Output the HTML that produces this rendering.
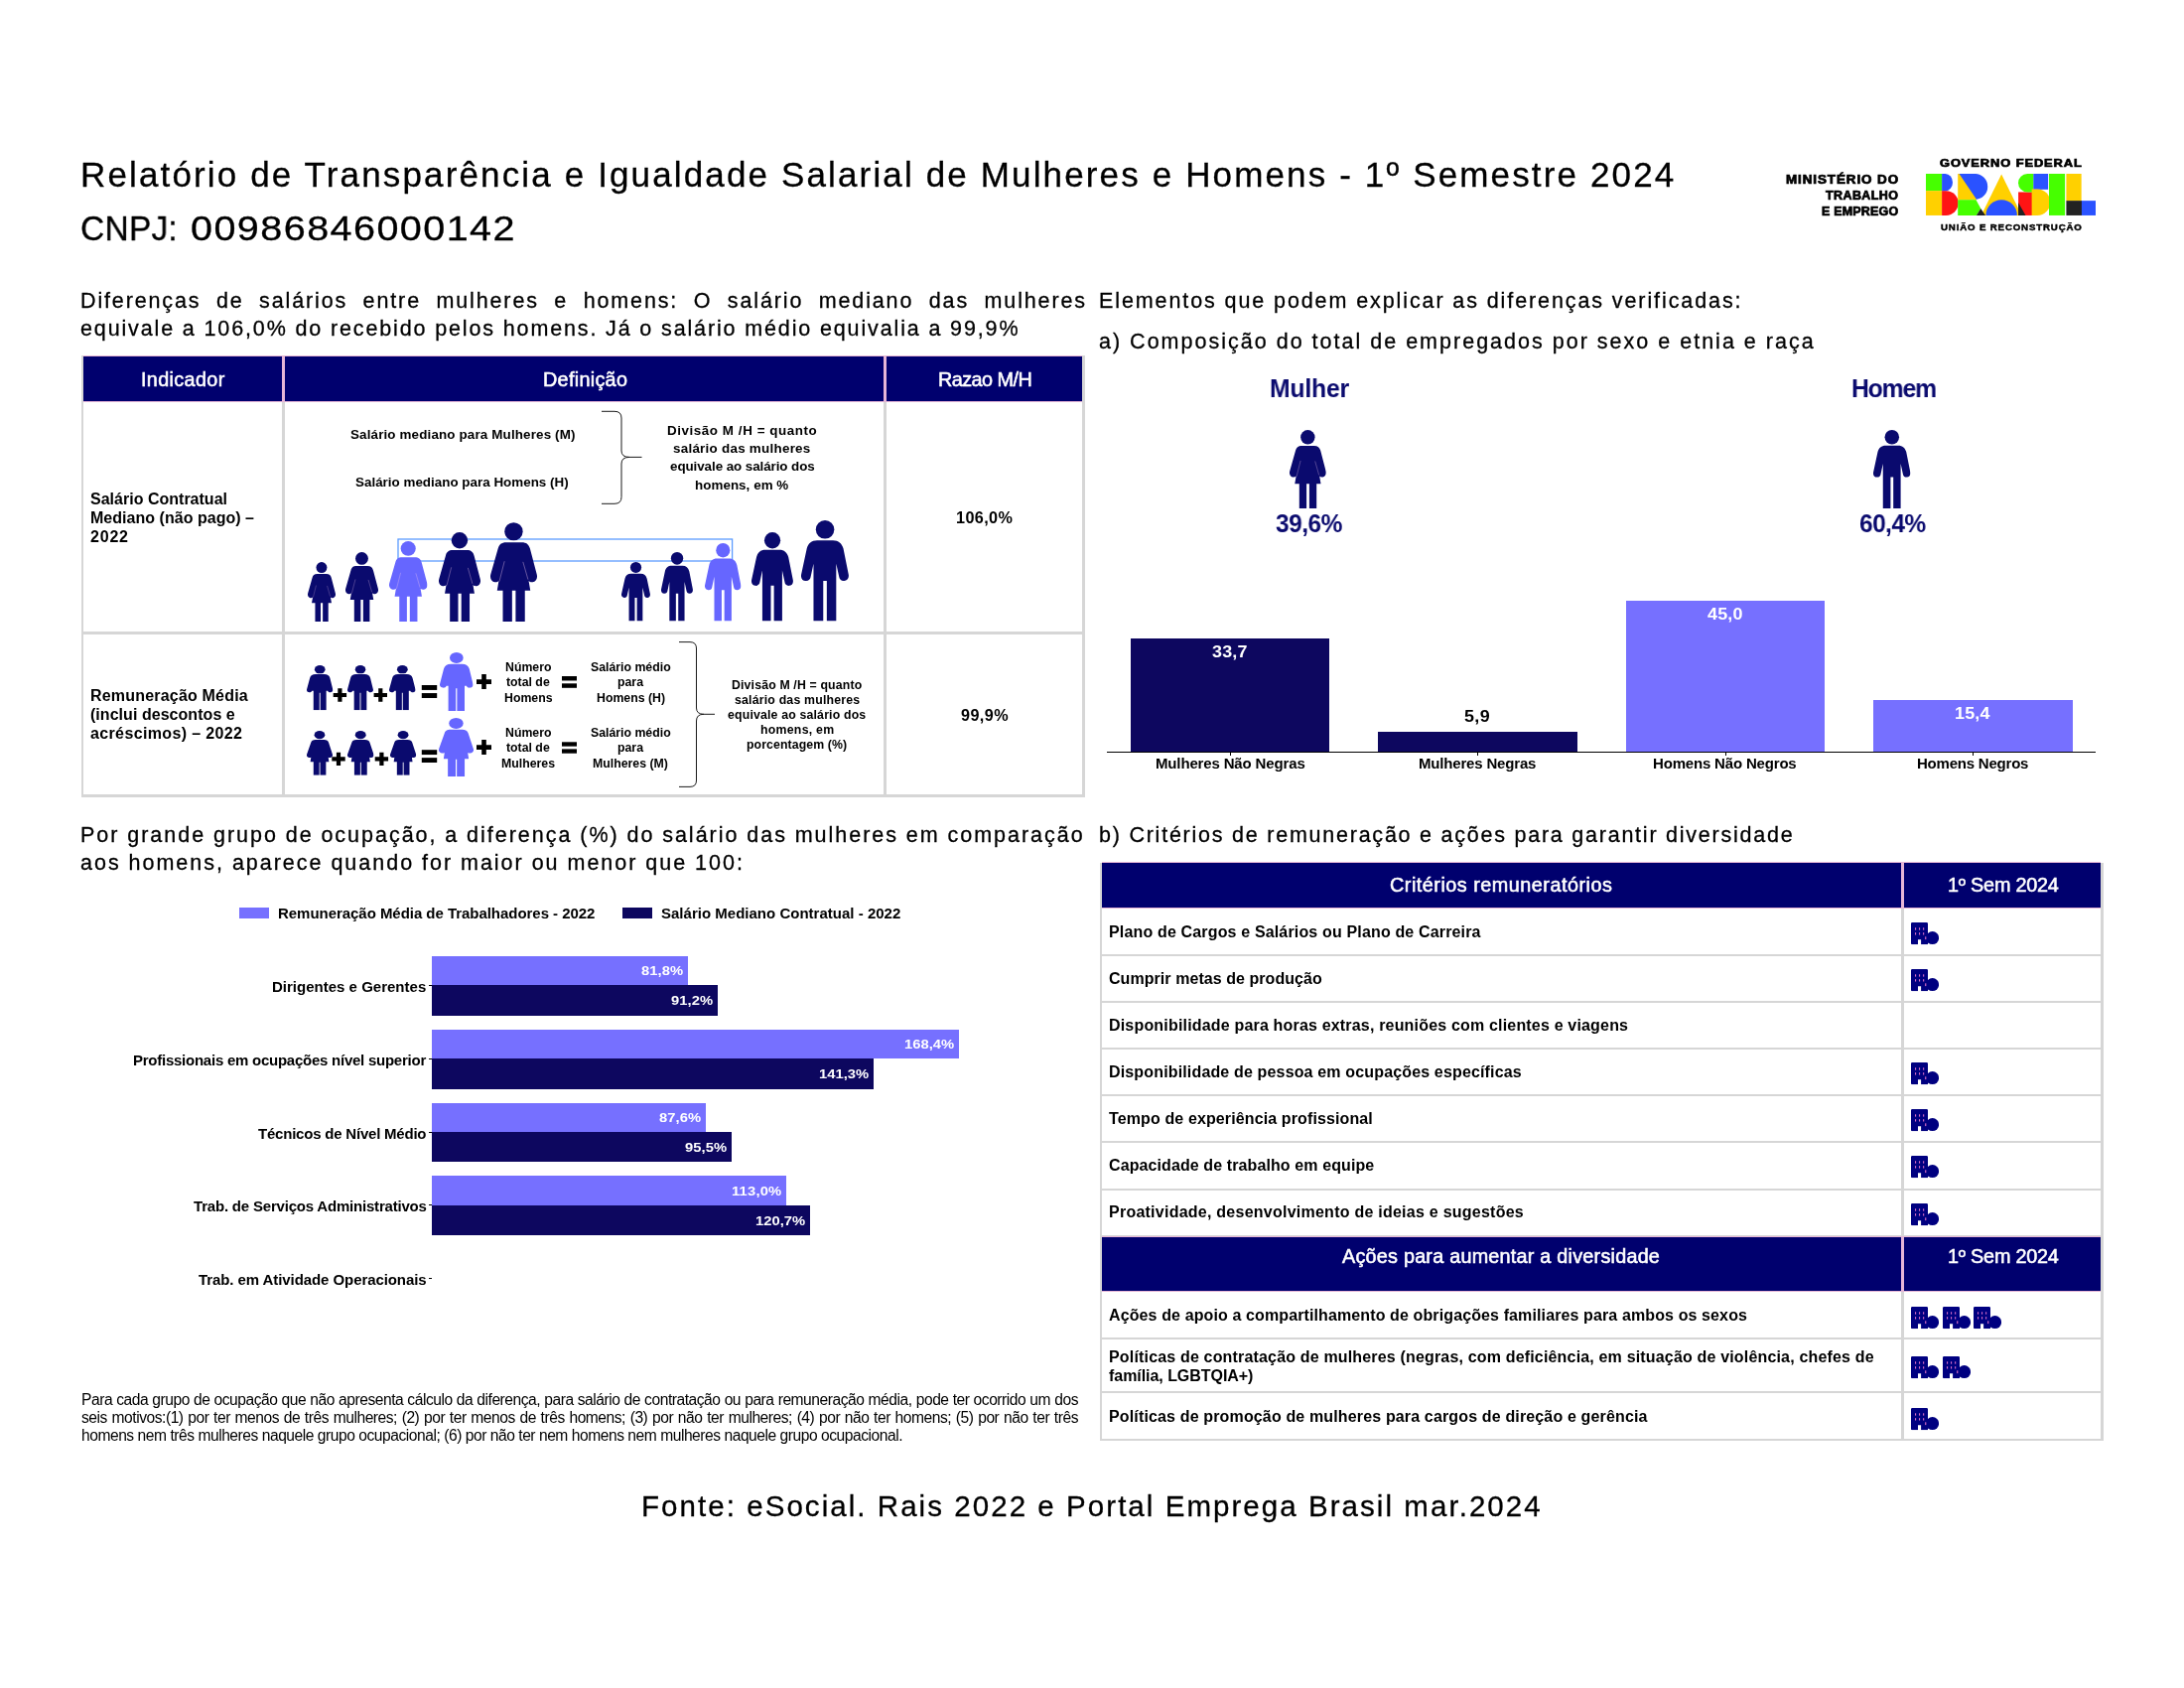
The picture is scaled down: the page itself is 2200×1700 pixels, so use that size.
<!DOCTYPE html>
<html lang="pt-BR">
<head>
<meta charset="utf-8">
<title>Relatório de Transparência e Igualdade Salarial de Mulheres e Homens - 1º Semestre 2024</title>
<style>
html,body{margin:0;padding:0;background:#fff;}
body{width:2200px;height:1700px;position:relative;overflow:hidden;font-family:"Liberation Sans",sans-serif;color:#000;}
.t{position:absolute;white-space:pre;will-change:transform;line-height:1;transform-origin:0 50%;font-family:"Liberation Sans",sans-serif;}
.r{position:absolute;}
.lu{-webkit-text-stroke:0.3px #000;}
.blk{-webkit-text-stroke:0.7px #000;}
.fb{-webkit-text-stroke:0.55px #fff;}
.blk2{-webkit-text-stroke:0.45px #000;}
svg{position:absolute;overflow:visible;}
</style>
</head>
<body>
<header id="cabecalho" aria-label="Cabeçalho">
<svg width="0" height="0" style="left:0;top:0" aria-hidden="true"><defs>
<symbol id="man" viewBox="0 0 37.5 79" preserveAspectRatio="none">
 <circle cx="18.8" cy="7.25" r="7.25"/>
 <path d="M12.6,15.7 H25.1 C29.5,15.7 32,18 33.2,22.1 L37.3,42.5 C37.9,45.5 36.2,47.4 33.9,47.6 C31.6,47.8 30.1,46.4 29.9,44.5 L27.6,34.1 V79 H20.2 V47.6 H17.4 V79 H9.75 V34.1 L7.5,44.5 C7.3,46.4 5.8,47.8 3.5,47.6 C1.2,47.4 -0.5,45.5 0.1,42.5 L4.5,22.1 C5.6,18 8,15.7 12.6,15.7 Z"/>
</symbol>
<symbol id="woman" viewBox="0 0 36.8 79" preserveAspectRatio="none">
 <circle cx="18.35" cy="7.3" r="7.2"/>
 <path d="M12.6,15.9 H24.7 C28.5,15.9 30.2,17.5 31.2,20.8 L36.6,41.5 C37.4,44.8 35.8,47.2 33.4,47.6 C32,47.8 30.9,47.4 30.2,46.6 L31.5,54.3 H27.2 V79 H19.9 V54.3 H17.1 V79 H9.8 V54.3 H5.3 L6.6,46.6 C5.9,47.4 4.8,47.8 3.4,47.6 C1,47.2 -0.6,44.8 0.2,41.5 L6.05,20.8 C7,17.5 8.5,15.9 12.6,15.9 Z"/>
 <line x1="11.1" y1="31" x2="7.05" y2="47" stroke="#fbd0ee" stroke-opacity=".5" stroke-width=".6"/>
 <line x1="25.7" y1="31.5" x2="29.7" y2="45.5" stroke="#fbd0ee" stroke-opacity=".5" stroke-width=".6"/>
</symbol>
<symbol id="man2" viewBox="0 0 37.5 79" preserveAspectRatio="none">
 <ellipse cx="18.8" cy="7.3" rx="7.6" ry="7.3"/>
 <path d="M12.6,15.7 H25.1 C29.5,15.7 32,18 33.2,22.1 L37.3,42.5 C37.9,45.5 36.2,47.4 33.9,47.6 C32,47.8 30.5,46.8 30,45 L27.9,45 V79 H19.4 V48.5 H18.1 V79 H9.6 V45 L7.5,45 C7,46.8 5.5,47.8 3.5,47.6 C1.2,47.4 -0.5,45.5 0.1,42.5 L4.5,22.1 C5.6,18 8,15.7 12.6,15.7 Z"/>
</symbol>
<symbol id="woman2" viewBox="0 0 36.8 79" preserveAspectRatio="none">
 <ellipse cx="18.35" cy="7.3" rx="7.6" ry="7.3"/>
 <path d="M12.6,15.9 H24.7 C28.5,15.9 30.2,17.5 31.2,20.8 L36.6,41.5 C37.4,44.8 35.8,47.2 33.4,47.6 C32.3,47.8 31.4,47.6 30.7,47 L31.7,55.3 H27.4 V79 H19.1 V56 H17.9 V79 H9.6 V55.3 H5.1 L6.1,47 C5.4,47.6 4.5,47.8 3.4,47.6 C1,47.2 -0.6,44.8 0.2,41.5 L6.05,20.8 C7,17.5 8.5,15.9 12.6,15.9 Z"/>
</symbol>
<symbol id="bld" viewBox="0 0 28 22.2" preserveAspectRatio="none">
 <path d="M1.3,0 H15.7 Q17,0 17,1.3 V22.2 H10.1 V17.2 H7 V22.2 H1.3 Q0,22.2 0,20.9 V1.3 Q0,0 1.3,0 Z"/>
 <circle cx="21.6" cy="15.6" r="6.5"/>
 <g fill="#e070c8"><rect x="4" y="5.3" width="1.1" height="2.3"/><rect x="8" y="5.3" width="1.1" height="2.3"/><rect x="12.1" y="5.3" width="1.1" height="2.3"/>
 <rect x="4" y="10.2" width="1.1" height="2.3"/><rect x="8" y="10.2" width="1.1" height="2.3"/><rect x="12.1" y="10.2" width="1.1" height="2.3"/>
 <rect x="14.2" y="14.3" width="1.1" height="2.8"/></g>
</symbol>
</defs></svg>
<svg style="left:1940px;top:175.05px" width="171" height="41.95" viewBox="115 288 1965 482" preserveAspectRatio="none">
<rect x="115" y="288" width="187" height="199" fill="#46ff00"/>
<rect x="115" y="485" width="187" height="285" fill="#ffd000"/>
<path d="M300,288 H340 A85,100 0 0 1 340,488 H300 Z" fill="#2a52ff"/>
<path d="M300,485 H350 A140,142.5 0 0 1 350,770 H300 Z" fill="#ff1414"/>
<rect x="485" y="288" width="215" height="304" fill="#ffd000"/>
<path d="M500,288 H685 A145,148.5 0 0 1 685,585 H700 Z" fill="#2a52ff"/>
<polygon points="485,590 695,590 750,690 700,770 485,770" fill="#46ff00"/>
<polygon points="990,295 1225,770 755,770" fill="#ffd000"/>
<polygon points="700,770 750,690 805,770" fill="#222"/>
<path d="M810,770 A180,180 0 0 1 1170,770 Z" fill="#2a52ff"/>
<path d="M1185,500 H1345 V770 H1185 Z" fill="#ff1414"/>
<polygon points="1185,620 1270,770 1185,770" fill="#222"/>
<path d="M1362,288 V500 H1290 A106,106 0 0 1 1290,288 Z" fill="#46ff00"/>
<rect x="1360" y="288" width="170" height="182" fill="#2a52ff"/>
<path d="M1340,465 H1405 A150,152.5 0 0 1 1405,770 H1340 Z" fill="#ffd000"/>
<rect x="1540" y="288" width="185" height="482" fill="#46ff00"/>
<rect x="1740" y="288" width="175" height="314" fill="#ffd000"/>
<rect x="1740" y="600" width="180" height="170" fill="#222"/>
<rect x="1918" y="600" width="162" height="170" fill="#2a52ff"/>
</svg>
<span class="t lu" style="left:81.02px;top:156px;font-size:35px;line-height:39px;letter-spacing:2.138px;">Relatório de Transparência e Igualdade Salarial de Mulheres e Homens - 1º Semestre 2024</span>
<span class="t lu" style="left:81.02px;top:210px;font-size:35px;line-height:39px;letter-spacing:0.168px;transform:scaleX(0.96);">CNPJ:</span>
<span class="t lu" style="left:192.12px;top:210px;font-size:35px;line-height:39px;letter-spacing:1.265px;transform:scaleX(1.13);">00986846000142</span>
<span class="t blk" style="left:1799.22px;top:174px;font-size:12px;line-height:14px;font-weight:700;letter-spacing:0.806px;transform:scaleX(1.12);">MINISTÉRIO DO</span>
<span class="t blk" style="left:1839.42px;top:190px;font-size:12px;line-height:14px;font-weight:700;letter-spacing:0.401px;transform:scaleX(1.04);">TRABALHO</span>
<span class="t blk" style="left:1835.22px;top:206px;font-size:12px;line-height:14px;font-weight:700;letter-spacing:0.186px;transform:scaleX(1.04);">E EMPREGO</span>
<span class="t blk" style="left:1954.45px;top:158px;font-size:11.5px;line-height:12px;font-weight:700;letter-spacing:0.806px;transform:scaleX(1.12);">GOVERNO FEDERAL</span>
<span class="t blk2" style="left:1954.63px;top:224px;font-size:8.8px;line-height:10px;font-weight:700;letter-spacing:0.767px;transform:scaleX(1.1);">UNIÃO E RECONSTRUÇÃO</span>
</header>
<section id="diferencas" aria-label="Diferenças de salários entre mulheres e homens">
<div class="r" style="left:82.00px;top:358.00px;width:2.00px;height:445.20px;background:#d6d6d6;"></div>
<div class="r" style="left:1090.00px;top:358.00px;width:3.00px;height:445.20px;background:#d6d6d6;"></div>
<div class="r" style="left:284.00px;top:358.00px;width:3.00px;height:445.20px;background:#d6d6d6;"></div>
<div class="r" style="left:889.50px;top:358.00px;width:3.00px;height:445.20px;background:#d6d6d6;"></div>
<div class="r" style="left:82.00px;top:636.00px;width:1011.00px;height:3.00px;background:#d6d6d6;"></div>
<div class="r" style="left:82.00px;top:800.20px;width:1011.00px;height:3.00px;background:#d6d6d6;"></div>
<div class="r" style="left:84.00px;top:358.90px;width:200.00px;height:45.00px;background:#00006e;"></div>
<div class="r" style="left:287.00px;top:358.90px;width:602.50px;height:45.00px;background:#00006e;"></div>
<div class="r" style="left:892.50px;top:358.90px;width:197.50px;height:45.00px;background:#00006e;"></div>
<div class="r" style="left:84.00px;top:357.90px;width:1006.00px;height:1.00px;background:#e6b6d6;"></div>
<div class="r" style="left:84.00px;top:403.90px;width:1006.00px;height:1.20px;background:#e6b6d6;"></div>
<div class="r" style="left:284.00px;top:358.90px;width:3.00px;height:45.00px;background:#e6b6d6;"></div>
<div class="r" style="left:889.50px;top:358.90px;width:3.00px;height:45.00px;background:#e6b6d6;"></div>
<svg style="left:0;top:0" width="2200" height="1700"><rect x="401" y="543" width="336.6" height="22" fill="none" stroke="#5c9cff" stroke-width="1.3"/></svg>
<svg style="left:310.00px;top:566.00px;color:#0a0a6e;fill:#0a0a6e" width="28.00" height="60.00"><use href="#woman" width="28.00" height="60.00"/></svg>
<svg style="left:348.00px;top:556.00px;color:#0a0a6e;fill:#0a0a6e" width="33.00" height="70.00"><use href="#woman" width="33.00" height="70.00"/></svg>
<svg style="left:392.30px;top:545.00px;color:#6666ff;fill:#6666ff" width="38.50" height="81.00"><use href="#woman" width="38.50" height="81.00"/></svg>
<svg style="left:442.00px;top:536.00px;color:#0a0a6e;fill:#0a0a6e" width="42.00" height="90.00"><use href="#woman" width="42.00" height="90.00"/></svg>
<svg style="left:494.00px;top:526.00px;color:#0a0a6e;fill:#0a0a6e" width="47.00" height="100.00"><use href="#woman" width="47.00" height="100.00"/></svg>
<svg style="left:626.00px;top:565.80px;color:#0a0a6e;fill:#0a0a6e" width="29.00" height="59.60"><use href="#man" width="29.00" height="59.60"/></svg>
<svg style="left:666.00px;top:556.00px;color:#0a0a6e;fill:#0a0a6e" width="32.00" height="69.40"><use href="#man" width="32.00" height="69.40"/></svg>
<svg style="left:710.00px;top:547.00px;color:#6666ff;fill:#6666ff" width="36.50" height="78.40"><use href="#man" width="36.50" height="78.40"/></svg>
<svg style="left:757.00px;top:536.00px;color:#0a0a6e;fill:#0a0a6e" width="42.00" height="89.40"><use href="#man" width="42.00" height="89.40"/></svg>
<svg style="left:807.00px;top:524.00px;color:#0a0a6e;fill:#0a0a6e" width="48.00" height="101.40"><use href="#man" width="48.00" height="101.40"/></svg>
<svg style="left:309.30px;top:669.50px;color:#0a0a6e;fill:#0a0a6e" width="26.40" height="45.30"><use href="#man2" width="26.40" height="45.30"/></svg>
<svg style="left:350.00px;top:669.50px;color:#0a0a6e;fill:#0a0a6e" width="26.00" height="45.30"><use href="#man2" width="26.00" height="45.30"/></svg>
<svg style="left:392.40px;top:669.50px;color:#0a0a6e;fill:#0a0a6e" width="26.60" height="45.30"><use href="#man2" width="26.60" height="45.30"/></svg>
<svg style="left:443.00px;top:656.70px;color:#6666ff;fill:#6666ff" width="33.60" height="59.10"><use href="#man2" width="33.60" height="59.10"/></svg>
<svg style="left:309.00px;top:735.90px;color:#0a0a6e;fill:#0a0a6e" width="26.00" height="44.80"><use href="#woman2" width="26.00" height="44.80"/></svg>
<svg style="left:349.50px;top:735.90px;color:#0a0a6e;fill:#0a0a6e" width="26.50" height="44.80"><use href="#woman2" width="26.50" height="44.80"/></svg>
<svg style="left:392.80px;top:735.90px;color:#0a0a6e;fill:#0a0a6e" width="26.20" height="44.80"><use href="#woman2" width="26.20" height="44.80"/></svg>
<svg style="left:441.60px;top:722.70px;color:#6666ff;fill:#6666ff" width="35.00" height="59.00"><use href="#woman2" width="35.00" height="59.00"/></svg>
<svg style="left:0;top:0" width="2200" height="1700" viewBox="0 0 2200 1700"><g fill="none" stroke="#1a1a1a" stroke-width="1"><path d="M606,414.3 H619 Q626,414.3 626,421 V454 Q626,460.4 634,460.4 H646.5 M634,460.4 Q626,460.4 626,467 V500.6 Q626,507.3 619,507.3 H606"/><path d="M684,646.6 H695 Q701.5,646.6 701.5,653 V713 Q701.5,719.3 709,719.3 H720 M709,719.3 Q701.5,719.3 701.5,726 V786 Q701.5,792.4 695,792.4 H684"/></g><g fill="#000"><path d="M335.70,697.90h4.60v-4.60h4.2v4.60h4.60v4.2h-4.60v4.60h-4.2v-4.60h-4.60z"/><path d="M376.60,697.90h4.60v-4.60h4.2v4.60h4.60v4.2h-4.60v4.60h-4.2v-4.60h-4.60z"/><rect x="424.8" y="690" width="15.40" height="4.94"/><rect x="424.8" y="698.06" width="15.40" height="4.94"/><path d="M480.00,684.30h5.20v-5.20h4.6v5.20h5.20v4.6h-5.20v5.20h-4.6v-5.20h-5.20z"/><rect x="566" y="681" width="15.00" height="4.48"/><rect x="566" y="688.32" width="15.00" height="4.48"/><path d="M334.30,762.30h4.60v-4.60h4.2v4.60h4.60v4.2h-4.60v4.60h-4.2v-4.60h-4.60z"/><path d="M377.70,762.30h4.60v-4.60h4.2v4.60h4.60v4.2h-4.60v4.60h-4.2v-4.60h-4.60z"/><rect x="424.8" y="755.2" width="15.40" height="4.86"/><rect x="424.8" y="763.14" width="15.40" height="4.86"/><path d="M480.00,750.30h5.20v-5.20h4.6v5.20h5.20v4.6h-5.20v5.20h-4.6v-5.20h-5.20z"/><rect x="566" y="747.3" width="15.00" height="4.33"/><rect x="566" y="754.37" width="15.00" height="4.33"/></g></svg>
<span class="t lu" style="left:81.10px;top:319px;font-size:21.5px;line-height:24px;letter-spacing:1.865px;">equivale a 106,0% do recebido pelos homens. Já o salário médio equivalia a 99,9%</span>
<span class="t lu" style="left:81.10px;top:291px;font-size:21.5px;line-height:24px;letter-spacing:1.865px;word-spacing:7.681px;">Diferenças de salários entre mulheres e homens: O salário mediano das mulheres</span>
<span class="t fb" style="left:142.01px;top:371px;font-size:19.8px;line-height:22px;color:#fff;letter-spacing:0.361px;">Indicador</span>
<span class="t fb" style="left:546.71px;top:371px;font-size:19.8px;line-height:22px;color:#fff;letter-spacing:0.302px;">Definição</span>
<span class="t fb" style="left:945.11px;top:371px;font-size:19.8px;line-height:22px;color:#fff;letter-spacing:-0.532px;">Razao M/H</span>
<span class="t" style="left:91.46px;top:494px;font-size:16px;line-height:17px;font-weight:700;letter-spacing:0.012px;">Salário Contratual</span>
<span class="t" style="left:91.46px;top:513px;font-size:16px;line-height:17px;font-weight:700;letter-spacing:0.030px;">Mediano (não pago) –</span>
<span class="t" style="left:91.46px;top:532px;font-size:16px;line-height:17px;font-weight:700;letter-spacing:0.809px;">2022</span>
<span class="t" style="left:91.46px;top:692px;font-size:16px;line-height:17px;font-weight:700;letter-spacing:0.194px;">Remuneração Média</span>
<span class="t" style="left:91.46px;top:711px;font-size:16px;line-height:17px;font-weight:700;letter-spacing:0.044px;">(inclui descontos e</span>
<span class="t" style="left:91.46px;top:730px;font-size:16px;line-height:17px;font-weight:700;letter-spacing:0.367px;">acréscimos) – 2022</span>
<span class="t" style="left:962.60px;top:512px;font-size:16.2px;line-height:18px;font-weight:700;letter-spacing:0.387px;">106,0%</span>
<span class="t" style="left:967.95px;top:711px;font-size:16.2px;line-height:18px;font-weight:700;letter-spacing:0.408px;">99,9%</span>
<span class="t" style="left:353.23px;top:430px;font-size:13.4px;line-height:15px;font-weight:700;letter-spacing:0.148px;">Salário mediano para Mulheres (M)</span>
<span class="t" style="left:358.13px;top:478px;font-size:13.4px;line-height:15px;font-weight:700;letter-spacing:0.012px;">Salário mediano para Homens (H)</span>
<span class="t" style="left:672.18px;top:426px;font-size:13.4px;line-height:15px;font-weight:700;letter-spacing:0.563px;">Divisão M /H = quanto</span>
<span class="t" style="left:678.43px;top:444px;font-size:13.4px;line-height:15px;font-weight:700;letter-spacing:0.265px;">salário das mulheres</span>
<span class="t" style="left:674.68px;top:462px;font-size:13.4px;line-height:15px;font-weight:700;letter-spacing:-0.072px;">equivale ao salário dos</span>
<span class="t" style="left:700.43px;top:481px;font-size:13.4px;line-height:15px;font-weight:700;letter-spacing:0.046px;">homens, em %</span>
<span class="t" style="left:509.05px;top:665px;font-size:12.3px;line-height:14px;font-weight:700;">Número</span>
<span class="t" style="left:510.42px;top:680px;font-size:12.3px;line-height:14px;font-weight:700;">total de</span>
<span class="t" style="left:508.03px;top:696px;font-size:12.3px;line-height:14px;font-weight:700;">Homens</span>
<span class="t" style="left:594.96px;top:665px;font-size:12.3px;line-height:14px;font-weight:700;">Salário médio</span>
<span class="t" style="left:622.29px;top:680px;font-size:12.3px;line-height:14px;font-weight:700;">para</span>
<span class="t" style="left:600.78px;top:696px;font-size:12.3px;line-height:14px;font-weight:700;">Homens (H)</span>
<span class="t" style="left:509.05px;top:731px;font-size:12.3px;line-height:14px;font-weight:700;">Número</span>
<span class="t" style="left:510.42px;top:746px;font-size:12.3px;line-height:14px;font-weight:700;">total de</span>
<span class="t" style="left:505.28px;top:762px;font-size:12.3px;line-height:14px;font-weight:700;">Mulheres</span>
<span class="t" style="left:594.96px;top:731px;font-size:12.3px;line-height:14px;font-weight:700;">Salário médio</span>
<span class="t" style="left:622.29px;top:746px;font-size:12.3px;line-height:14px;font-weight:700;">para</span>
<span class="t" style="left:597.36px;top:762px;font-size:12.3px;line-height:14px;font-weight:700;">Mulheres (M)</span>
<span class="t" style="left:737.20px;top:683px;font-size:12.3px;line-height:14px;font-weight:700;letter-spacing:0.153px;">Divisão M /H = quanto</span>
<span class="t" style="left:739.70px;top:698px;font-size:12.3px;line-height:14px;font-weight:700;letter-spacing:0.200px;">salário das mulheres</span>
<span class="t" style="left:733.20px;top:713px;font-size:12.3px;line-height:14px;font-weight:700;letter-spacing:0.175px;">equivale ao salário dos</span>
<span class="t" style="left:765.70px;top:728px;font-size:12.3px;line-height:14px;font-weight:700;letter-spacing:0.267px;">homens, em</span>
<span class="t" style="left:752.20px;top:743px;font-size:12.3px;line-height:14px;font-weight:700;letter-spacing:0.100px;">porcentagem (%)</span>
</section>
<section id="composicao" aria-label="Composição do total de empregados por sexo e etnia e raça">
<div class="r" style="left:1138.80px;top:642.90px;width:200.30px;height:114.40px;background:#0d075f;"></div>
<div class="r" style="left:1388.00px;top:736.90px;width:201.00px;height:20.40px;background:#0d075f;"></div>
<div class="r" style="left:1637.50px;top:605.20px;width:200.50px;height:152.10px;background:#7670ff;"></div>
<div class="r" style="left:1887.00px;top:704.70px;width:201.00px;height:52.60px;background:#7670ff;"></div>
<div class="r" style="left:1114.50px;top:756.70px;width:996.50px;height:1.30px;background:#000;"></div>
<div class="r" style="left:1238.80px;top:758.00px;width:1.00px;height:3.00px;background:#000;"></div>
<div class="r" style="left:1488.10px;top:758.00px;width:1.00px;height:3.00px;background:#000;"></div>
<div class="r" style="left:1737.50px;top:758.00px;width:1.00px;height:3.00px;background:#000;"></div>
<div class="r" style="left:1986.80px;top:758.00px;width:1.00px;height:3.00px;background:#000;"></div>
<svg style="left:1299.20px;top:433.00px;color:#0a0a6e;fill:#0a0a6e" width="36.80" height="78.90"><use href="#woman" width="36.80" height="78.90"/></svg>
<svg style="left:1887.00px;top:432.90px;color:#0a0a6e;fill:#0a0a6e" width="37.50" height="79.00"><use href="#man" width="37.50" height="79.00"/></svg>
<span class="t lu" style="left:1107.00px;top:291px;font-size:21.5px;line-height:24px;letter-spacing:1.903px;">Elementos que podem explicar as diferenças verificadas:</span>
<span class="t lu" style="left:1107.00px;top:332px;font-size:21.5px;line-height:24px;letter-spacing:2.008px;">a) Composição do total de empregados por sexo e etnia e raça</span>
<span class="t" style="left:1278.61px;top:376px;font-size:26px;line-height:30px;font-weight:700;color:#0a0a6e;letter-spacing:-0.190px;transform:scaleX(0.95);">Mulher</span>
<span class="t" style="left:1864.71px;top:376px;font-size:26px;line-height:30px;font-weight:700;color:#0a0a6e;letter-spacing:-1.164px;transform:scaleX(0.95);">Homem</span>
<span class="t" style="left:1284.91px;top:512px;font-size:26px;line-height:30px;font-weight:700;color:#0a0a6e;letter-spacing:-0.516px;transform:scaleX(0.94);">39,6%</span>
<span class="t" style="left:1872.91px;top:512px;font-size:26px;line-height:30px;font-weight:700;color:#0a0a6e;letter-spacing:-0.569px;transform:scaleX(0.94);">60,4%</span>
<span class="t" style="left:1220.99px;top:648px;font-size:15.6px;line-height:17px;font-weight:700;color:#fff;letter-spacing:0.165px;transform:scaleX(1.15);">33,7</span>
<span class="t" style="left:1475.09px;top:713px;font-size:15.6px;line-height:17px;font-weight:700;letter-spacing:0.322px;transform:scaleX(1.15);">5,9</span>
<span class="t" style="left:1719.99px;top:610px;font-size:15.6px;line-height:17px;font-weight:700;color:#fff;letter-spacing:0.165px;transform:scaleX(1.15);">45,0</span>
<span class="t" style="left:1968.99px;top:710px;font-size:15.6px;line-height:17px;font-weight:700;color:#fff;letter-spacing:0.165px;transform:scaleX(1.15);">15,4</span>
<span class="t" style="left:1163.67px;top:760px;font-size:15px;line-height:17px;font-weight:700;letter-spacing:-0.148px;">Mulheres Não Negras</span>
<span class="t" style="left:1429.12px;top:760px;font-size:15px;line-height:17px;font-weight:700;letter-spacing:-0.176px;">Mulheres Negras</span>
<span class="t" style="left:1665.38px;top:760px;font-size:15px;line-height:17px;font-weight:700;letter-spacing:-0.176px;">Homens Não Negros</span>
<span class="t" style="left:1930.82px;top:760px;font-size:15px;line-height:17px;font-weight:700;letter-spacing:-0.217px;">Homens Negros</span>
</section>
<section id="ocupacao" aria-label="Diferença por grande grupo de ocupação">
<div class="r" style="left:240.70px;top:914.00px;width:30.40px;height:10.90px;background:#7670ff;"></div>
<div class="r" style="left:626.90px;top:914.00px;width:30.00px;height:10.90px;background:#0d075f;"></div>
<div class="r" style="left:434.90px;top:963.10px;width:258.20px;height:28.90px;background:#7670ff;"></div>
<div class="r" style="left:434.90px;top:992.00px;width:288.20px;height:30.80px;background:#0d075f;"></div>
<div class="r" style="left:434.90px;top:1036.90px;width:531.30px;height:29.30px;background:#7670ff;"></div>
<div class="r" style="left:434.90px;top:1066.20px;width:445.10px;height:30.50px;background:#0d075f;"></div>
<div class="r" style="left:434.90px;top:1110.50px;width:276.10px;height:29.80px;background:#7670ff;"></div>
<div class="r" style="left:434.90px;top:1140.30px;width:302.10px;height:29.30px;background:#0d075f;"></div>
<div class="r" style="left:434.90px;top:1184.00px;width:356.80px;height:29.80px;background:#7670ff;"></div>
<div class="r" style="left:434.90px;top:1213.80px;width:381.40px;height:30.30px;background:#0d075f;"></div>
<div class="r" style="left:431.50px;top:991.50px;width:3.40px;height:1.10px;background:#000;"></div>
<div class="r" style="left:431.50px;top:1065.70px;width:3.40px;height:1.10px;background:#000;"></div>
<div class="r" style="left:431.50px;top:1139.80px;width:3.40px;height:1.10px;background:#000;"></div>
<div class="r" style="left:431.50px;top:1213.30px;width:3.40px;height:1.10px;background:#000;"></div>
<div class="r" style="left:431.50px;top:1287.30px;width:3.40px;height:1.10px;background:#000;"></div>
<span class="t lu" style="left:81.20px;top:857px;font-size:21.5px;line-height:24px;letter-spacing:1.984px;">aos homens, aparece quando for maior ou menor que 100:</span>
<span class="t lu" style="left:81.20px;top:829px;font-size:21.5px;line-height:24px;letter-spacing:1.984px;word-spacing:-0.118px;">Por grande grupo de ocupação, a diferença (%) do salário das mulheres em comparação</span>
<span class="t" style="left:280.22px;top:911px;font-size:15px;line-height:17px;font-weight:700;letter-spacing:-0.039px;">Remuneração Média de Trabalhadores - 2022</span>
<span class="t" style="left:666.23px;top:911px;font-size:15px;line-height:17px;font-weight:700;letter-spacing:0.013px;">Salário Mediano Contratual - 2022</span>
<span class="t" style="left:646.24px;top:970px;font-size:13.2px;line-height:15px;font-weight:700;color:#fff;letter-spacing:0.080px;transform:scaleX(1.12);">81,8%</span>
<span class="t" style="left:676.24px;top:1000px;font-size:13.2px;line-height:15px;font-weight:700;color:#fff;letter-spacing:0.080px;transform:scaleX(1.12);">91,2%</span>
<span class="t" style="left:911.34px;top:1044px;font-size:13.2px;line-height:15px;font-weight:700;color:#fff;letter-spacing:0.027px;transform:scaleX(1.12);">168,4%</span>
<span class="t" style="left:825.14px;top:1074px;font-size:13.2px;line-height:15px;font-weight:700;color:#fff;letter-spacing:0.027px;transform:scaleX(1.12);">141,3%</span>
<span class="t" style="left:664.14px;top:1118px;font-size:13.2px;line-height:15px;font-weight:700;color:#fff;letter-spacing:0.080px;transform:scaleX(1.12);">87,6%</span>
<span class="t" style="left:690.14px;top:1148px;font-size:13.2px;line-height:15px;font-weight:700;color:#fff;letter-spacing:0.080px;transform:scaleX(1.12);">95,5%</span>
<span class="t" style="left:736.84px;top:1192px;font-size:13.2px;line-height:15px;font-weight:700;color:#fff;letter-spacing:0.174px;transform:scaleX(1.12);">113,0%</span>
<span class="t" style="left:761.44px;top:1222px;font-size:13.2px;line-height:15px;font-weight:700;color:#fff;letter-spacing:0.027px;transform:scaleX(1.12);">120,7%</span>
<span class="t" style="left:274.33px;top:985px;font-size:15px;line-height:17px;font-weight:700;letter-spacing:0.008px;">Dirigentes e Gerentes</span>
<span class="t" style="left:134.32px;top:1059px;font-size:15px;line-height:17px;font-weight:700;letter-spacing:-0.247px;">Profissionais em ocupações nível superior</span>
<span class="t" style="left:260.02px;top:1133px;font-size:15px;line-height:17px;font-weight:700;letter-spacing:-0.213px;">Técnicos de Nível Médio</span>
<span class="t" style="left:194.62px;top:1206px;font-size:15px;line-height:17px;font-weight:700;letter-spacing:-0.196px;">Trab. de Serviços Administrativos</span>
<span class="t" style="left:199.93px;top:1280px;font-size:15px;line-height:17px;font-weight:700;letter-spacing:-0.080px;">Trab. em Atividade Operacionais</span>
<span class="t" style="left:81.59px;top:1437px;font-size:15.6px;line-height:17px;letter-spacing:-0.462px;">homens nem três mulheres naquele grupo ocupacional; (6) por não ter nem homens nem mulheres naquele grupo ocupacional.</span>
<span class="t" style="left:81.59px;top:1401px;font-size:15.6px;line-height:17px;letter-spacing:-0.462px;word-spacing:0.244px;">Para cada grupo de ocupação que não apresenta cálculo da diferença, para salário de contratação ou para remuneração média, pode ter ocorrido um dos</span>
<span class="t" style="left:81.59px;top:1419px;font-size:15.6px;line-height:17px;letter-spacing:-0.462px;word-spacing:0.806px;">seis motivos:(1) por ter menos de três mulheres; (2) por ter menos de três homens; (3) por não ter mulheres; (4) por não ter homens; (5) por não ter três</span>
</section>
<section id="criterios" aria-label="Critérios de remuneração e ações para garantir diversidade">
<div class="r" style="left:1108.00px;top:868.50px;width:2.00px;height:582.40px;background:#d6d6d6;"></div>
<div class="r" style="left:2116.00px;top:868.50px;width:3.00px;height:582.40px;background:#d6d6d6;"></div>
<div class="r" style="left:1915.20px;top:868.50px;width:3.00px;height:582.40px;background:#d6d6d6;"></div>
<div class="r" style="left:1108.00px;top:961.10px;width:1011.20px;height:2.10px;background:#d6d6d6;"></div>
<div class="r" style="left:1108.00px;top:1008.10px;width:1011.20px;height:2.10px;background:#d6d6d6;"></div>
<div class="r" style="left:1108.00px;top:1055.20px;width:1011.20px;height:2.10px;background:#d6d6d6;"></div>
<div class="r" style="left:1108.00px;top:1102.30px;width:1011.20px;height:2.10px;background:#d6d6d6;"></div>
<div class="r" style="left:1108.00px;top:1149.40px;width:1011.20px;height:2.10px;background:#d6d6d6;"></div>
<div class="r" style="left:1108.00px;top:1196.50px;width:1011.20px;height:2.10px;background:#d6d6d6;"></div>
<div class="r" style="left:1108.00px;top:1243.60px;width:1011.20px;height:2.10px;background:#d6d6d6;"></div>
<div class="r" style="left:1108.00px;top:1347.10px;width:1011.20px;height:2.10px;background:#d6d6d6;"></div>
<div class="r" style="left:1108.00px;top:1401.40px;width:1011.20px;height:2.10px;background:#d6d6d6;"></div>
<div class="r" style="left:1108.00px;top:1448.50px;width:1011.20px;height:2.10px;background:#d6d6d6;"></div>
<div class="r" style="left:1110.00px;top:869.10px;width:805.20px;height:44.80px;background:#00006e;"></div>
<div class="r" style="left:1918.20px;top:869.10px;width:197.80px;height:44.80px;background:#00006e;"></div>
<div class="r" style="left:1110.00px;top:1246.10px;width:805.20px;height:53.80px;background:#00006e;"></div>
<div class="r" style="left:1918.20px;top:1246.10px;width:197.80px;height:53.80px;background:#00006e;"></div>
<div class="r" style="left:1915.20px;top:869.10px;width:3.00px;height:44.80px;background:#e6b6d6;"></div>
<div class="r" style="left:1915.20px;top:1246.10px;width:3.00px;height:53.80px;background:#e6b6d6;"></div>
<div class="r" style="left:1110.00px;top:1245.30px;width:1006.00px;height:0.90px;background:#e6b6d6;"></div>
<div class="r" style="left:1110.00px;top:1299.90px;width:1006.00px;height:1.10px;background:#e6b6d6;"></div>
<div class="r" style="left:1110.00px;top:868.10px;width:1006.00px;height:1.00px;background:#e6b6d6;"></div>
<div class="r" style="left:1110.00px;top:913.90px;width:1006.00px;height:1.10px;background:#e6b6d6;"></div>
<svg style="left:1925.00px;top:928.90px;color:#000080;fill:#000080" width="28.00" height="22.20"><use href="#bld" width="28.00" height="22.20"/></svg>
<svg style="left:1925.00px;top:976.00px;color:#000080;fill:#000080" width="28.00" height="22.20"><use href="#bld" width="28.00" height="22.20"/></svg>
<svg style="left:1925.00px;top:1070.20px;color:#000080;fill:#000080" width="28.00" height="22.20"><use href="#bld" width="28.00" height="22.20"/></svg>
<svg style="left:1925.00px;top:1117.30px;color:#000080;fill:#000080" width="28.00" height="22.20"><use href="#bld" width="28.00" height="22.20"/></svg>
<svg style="left:1925.00px;top:1164.40px;color:#000080;fill:#000080" width="28.00" height="22.20"><use href="#bld" width="28.00" height="22.20"/></svg>
<svg style="left:1925.00px;top:1211.50px;color:#000080;fill:#000080" width="28.00" height="22.20"><use href="#bld" width="28.00" height="22.20"/></svg>
<svg style="left:1925.00px;top:1315.90px;color:#000080;fill:#000080" width="28.00" height="22.20"><use href="#bld" width="28.00" height="22.20"/></svg>
<svg style="left:1956.50px;top:1315.90px;color:#000080;fill:#000080" width="28.00" height="22.20"><use href="#bld" width="28.00" height="22.20"/></svg>
<svg style="left:1988.00px;top:1315.90px;color:#000080;fill:#000080" width="28.00" height="22.20"><use href="#bld" width="28.00" height="22.20"/></svg>
<svg style="left:1925.00px;top:1366.40px;color:#000080;fill:#000080" width="28.00" height="22.20"><use href="#bld" width="28.00" height="22.20"/></svg>
<svg style="left:1956.50px;top:1366.40px;color:#000080;fill:#000080" width="28.00" height="22.20"><use href="#bld" width="28.00" height="22.20"/></svg>
<svg style="left:1925.00px;top:1417.90px;color:#000080;fill:#000080" width="28.00" height="22.20"><use href="#bld" width="28.00" height="22.20"/></svg>
<span class="t lu" style="left:1107.00px;top:829px;font-size:21.5px;line-height:24px;letter-spacing:1.765px;">b) Critérios de remuneração e ações para garantir diversidade</span>
<span class="t fb" style="left:1400.21px;top:880px;font-size:19.8px;line-height:22px;color:#fff;letter-spacing:0.509px;">Critérios remuneratórios</span>
<span class="t fb" style="left:1961.71px;top:880px;font-size:19.8px;line-height:22px;color:#fff;letter-spacing:-0.203px;">1º Sem 2024</span>
<span class="t fb" style="left:1352.21px;top:1254px;font-size:19.8px;line-height:22px;color:#fff;letter-spacing:0.237px;">Ações para aumentar a diversidade</span>
<span class="t fb" style="left:1961.71px;top:1254px;font-size:19.8px;line-height:22px;color:#fff;letter-spacing:-0.203px;">1º Sem 2024</span>
<span class="t" style="left:1117.36px;top:930px;font-size:16px;line-height:17px;font-weight:700;letter-spacing:0.158px;">Plano de Cargos e Salários ou Plano de Carreira</span>
<span class="t" style="left:1117.36px;top:977px;font-size:16px;line-height:17px;font-weight:700;letter-spacing:0.060px;">Cumprir metas de produção</span>
<span class="t" style="left:1117.36px;top:1024px;font-size:16px;line-height:17px;font-weight:700;letter-spacing:0.180px;">Disponibilidade para horas extras, reuniões com clientes e viagens</span>
<span class="t" style="left:1117.36px;top:1071px;font-size:16px;line-height:17px;font-weight:700;letter-spacing:0.154px;">Disponibilidade de pessoa em ocupações específicas</span>
<span class="t" style="left:1117.36px;top:1118px;font-size:16px;line-height:17px;font-weight:700;letter-spacing:0.119px;">Tempo de experiência profissional</span>
<span class="t" style="left:1117.36px;top:1165px;font-size:16px;line-height:17px;font-weight:700;letter-spacing:0.101px;">Capacidade de trabalho em equipe</span>
<span class="t" style="left:1117.36px;top:1212px;font-size:16px;line-height:17px;font-weight:700;letter-spacing:0.245px;">Proatividade, desenvolvimento de ideias e sugestões</span>
<span class="t" style="left:1117.36px;top:1316px;font-size:16px;line-height:17px;font-weight:700;letter-spacing:0.116px;">Ações de apoio a compartilhamento de obrigações familiares para ambos os sexos</span>
<span class="t" style="left:1117.36px;top:1358px;font-size:16px;line-height:17px;font-weight:700;letter-spacing:0.170px;">Políticas de contratação de mulheres (negras, com deficiência, em situação de violência, chefes de</span>
<span class="t" style="left:1117.36px;top:1377px;font-size:16px;line-height:17px;font-weight:700;letter-spacing:-0.049px;">família, LGBTQIA+)</span>
<span class="t" style="left:1117.36px;top:1418px;font-size:16px;line-height:17px;font-weight:700;letter-spacing:0.148px;">Políticas de promoção de mulheres para cargos de direção e gerência</span>
</section>
<footer id="rodape" aria-label="Fonte">
<span class="t lu" style="left:646.18px;top:1500px;font-size:29.5px;line-height:33px;letter-spacing:2.052px;">Fonte: eSocial. Rais 2022 e Portal Emprega Brasil mar.2024</span>
</footer>
</body>
</html>
